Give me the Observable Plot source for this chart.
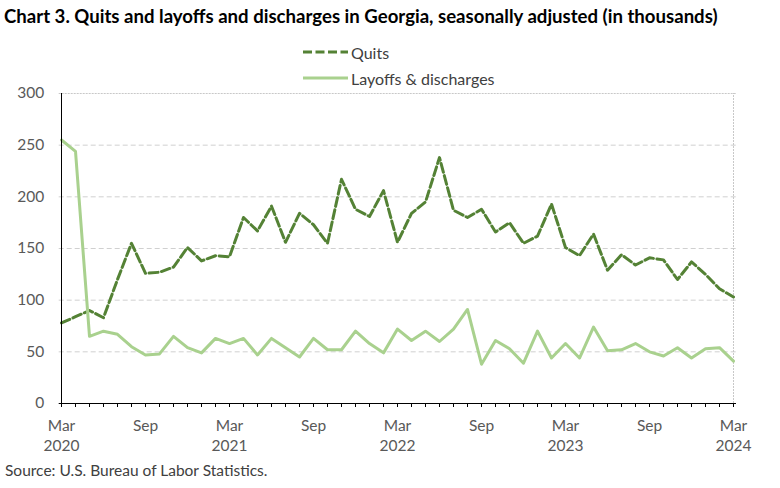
<!DOCTYPE html>
<html>
<head>
<meta charset="utf-8">
<script src="https://cdn.jsdelivr.net/npm/d3@7"></script>
<script src="https://cdn.jsdelivr.net/npm/@observablehq/plot@0.6"></script>
<style>
  body { margin: 0; background: #fff; font-family: Lato, "Open Sans", sans-serif; }
  #wrap { width: 780px; }
  #title { height: 30px; line-height: 32px; padding-left: 4px; font-weight: bold; font-size: 18.6px; color: #000; white-space: nowrap; }
  #legend { height: 54px; box-sizing: border-box; padding-top: 9px; overflow: visible; position: relative; z-index: 1; }
  .row { height: 26px; display: flex; align-items: center; padding-left: 303px; font-size: 16px; color: #404040; }
  .row svg { margin-right: 2px; }
  #chart svg { display: block; }
  #caption { height: 32px; line-height: 28px; padding-left: 5px; font-size: 15.5px; color: #404040; }
</style>
</head>
<body>
<div id="wrap">
  <div id="title">Chart 3. Quits and layoffs and discharges in Georgia, seasonally adjusted (in thousands)</div>
  <div id="legend"></div>
  <div id="chart"></div>
  <div id="caption">Source: U.S. Bureau of Labor Statistics.</div>
</div>
<script>
const months = [
  "2020-03","2020-04","2020-05","2020-06","2020-07","2020-08","2020-09","2020-10","2020-11","2020-12",
  "2021-01","2021-02","2021-03","2021-04","2021-05","2021-06","2021-07","2021-08","2021-09","2021-10","2021-11","2021-12",
  "2022-01","2022-02","2022-03","2022-04","2022-05","2022-06","2022-07","2022-08","2022-09","2022-10","2022-11","2022-12",
  "2023-01","2023-02","2023-03","2023-04","2023-05","2023-06","2023-07","2023-08","2023-09","2023-10","2023-11","2023-12",
  "2024-01","2024-02","2024-03"
];
const quits = [
  78, 84, 90, 83, 120, 155, 126, 127, 132, 151,
  138, 143, 142, 180, 167, 191, 156, 184, 173, 155, 217, 188,
  181, 206, 156, 184, 195, 238, 187, 180, 188, 166, 175, 155,
  162, 193, 151, 143, 164, 129, 144, 134, 141, 139, 120, 137,
  125, 111, 103
];
const layoffs = [
  255, 244, 65, 70, 67, 55, 47, 48, 65, 54,
  49, 63, 58, 63, 47, 63, 54, 45, 63, 52, 52, 70,
  58, 49, 72, 61, 70, 60, 72, 91, 38, 61, 53, 39,
  70, 44, 58, 44, 74, 51, 52, 58, 50, 46, 54, 44,
  53, 54, 41
];
const yTicks = [0, 50, 100, 150, 200, 250, 300];
const gridTicks = [50, 100, 150, 200, 250];
const xLabels = {
  "2020-03": "Mar\n2020", "2020-09": "Sep",
  "2021-03": "Mar\n2021", "2021-09": "Sep",
  "2022-03": "Mar\n2022", "2022-09": "Sep",
  "2023-03": "Mar\n2023", "2023-09": "Sep",
  "2024-03": "Mar\n2024"
};
const series = [
  {name: "Quits", color: "#548235", dash: "9,3.5"},
  {name: "Layoffs & discharges", color: "#a9d18e", dash: null}
];

const table = months.map((m, i) => ({month: m, quits: quits[i], layoffs: layoffs[i]}));

// legend
const legend = document.getElementById("legend");
for (const s of series) {
  const row = document.createElement("div");
  row.className = "row";
  row.innerHTML = `<svg width="46" height="6"><line x1="0" y1="3" x2="45" y2="3" stroke="${s.color}" stroke-width="3" ${s.dash ? `stroke-dasharray="${s.dash}"` : ""}/></svg><span>${s.name}</span>`;
  legend.appendChild(row);
}

const chart = Plot.plot({
  width: 780,
  height: 372,
  marginTop: 9,
  marginBottom: 53,
  marginLeft: 58.7,
  marginRight: 44,
  style: {fontFamily: "Lato, 'Open Sans', sans-serif", fontSize: "15.5px", color: "#595959", background: "transparent"},
  x: {type: "point", domain: months, padding: 0},
  y: {domain: [0, 300]},
  marks: [
    Plot.ruleY(gridTicks, {stroke: "#d0d0d0", strokeDasharray: "5,3", strokeWidth: 1}),
    Plot.ruleY([300], {stroke: "#c8c8c8", strokeDasharray: "2,1", strokeWidth: 1}),
    Plot.ruleX([months[months.length - 1]], {y1: 0, y2: 300, stroke: "#c8c8c8", strokeDasharray: "2,1", strokeWidth: 1}),
    Plot.axisY({ticks: yTicks, tickSize: 0, tickPadding: 15, label: null, fill: "#595959"}),
    Plot.axisX({ticks: months, tickSize: 4, tickFormat: () => "", label: null, stroke: "#000"}),
    Plot.axisX({ticks: Object.keys(xLabels), tickSize: 0, tickPadding: 13, tickFormat: d => xLabels[d], lineHeight: 1.3, label: null, fill: "#595959"}),
    Plot.line(table, {x: "month", y: "quits", stroke: series[0].color, strokeWidth: 3, strokeDasharray: series[0].dash, strokeLinejoin: "round"}),
    Plot.line(table, {x: "month", y: "layoffs", stroke: series[1].color, strokeWidth: 3, strokeLinejoin: "round"}),
    Plot.ruleX([months[0]], {y1: 0, y2: 300, stroke: "#000", strokeWidth: 1}),
    Plot.ruleY([0], {stroke: "#000", strokeWidth: 1})
  ]
});
document.getElementById("chart").appendChild(chart);
</script>
</body>
</html>
